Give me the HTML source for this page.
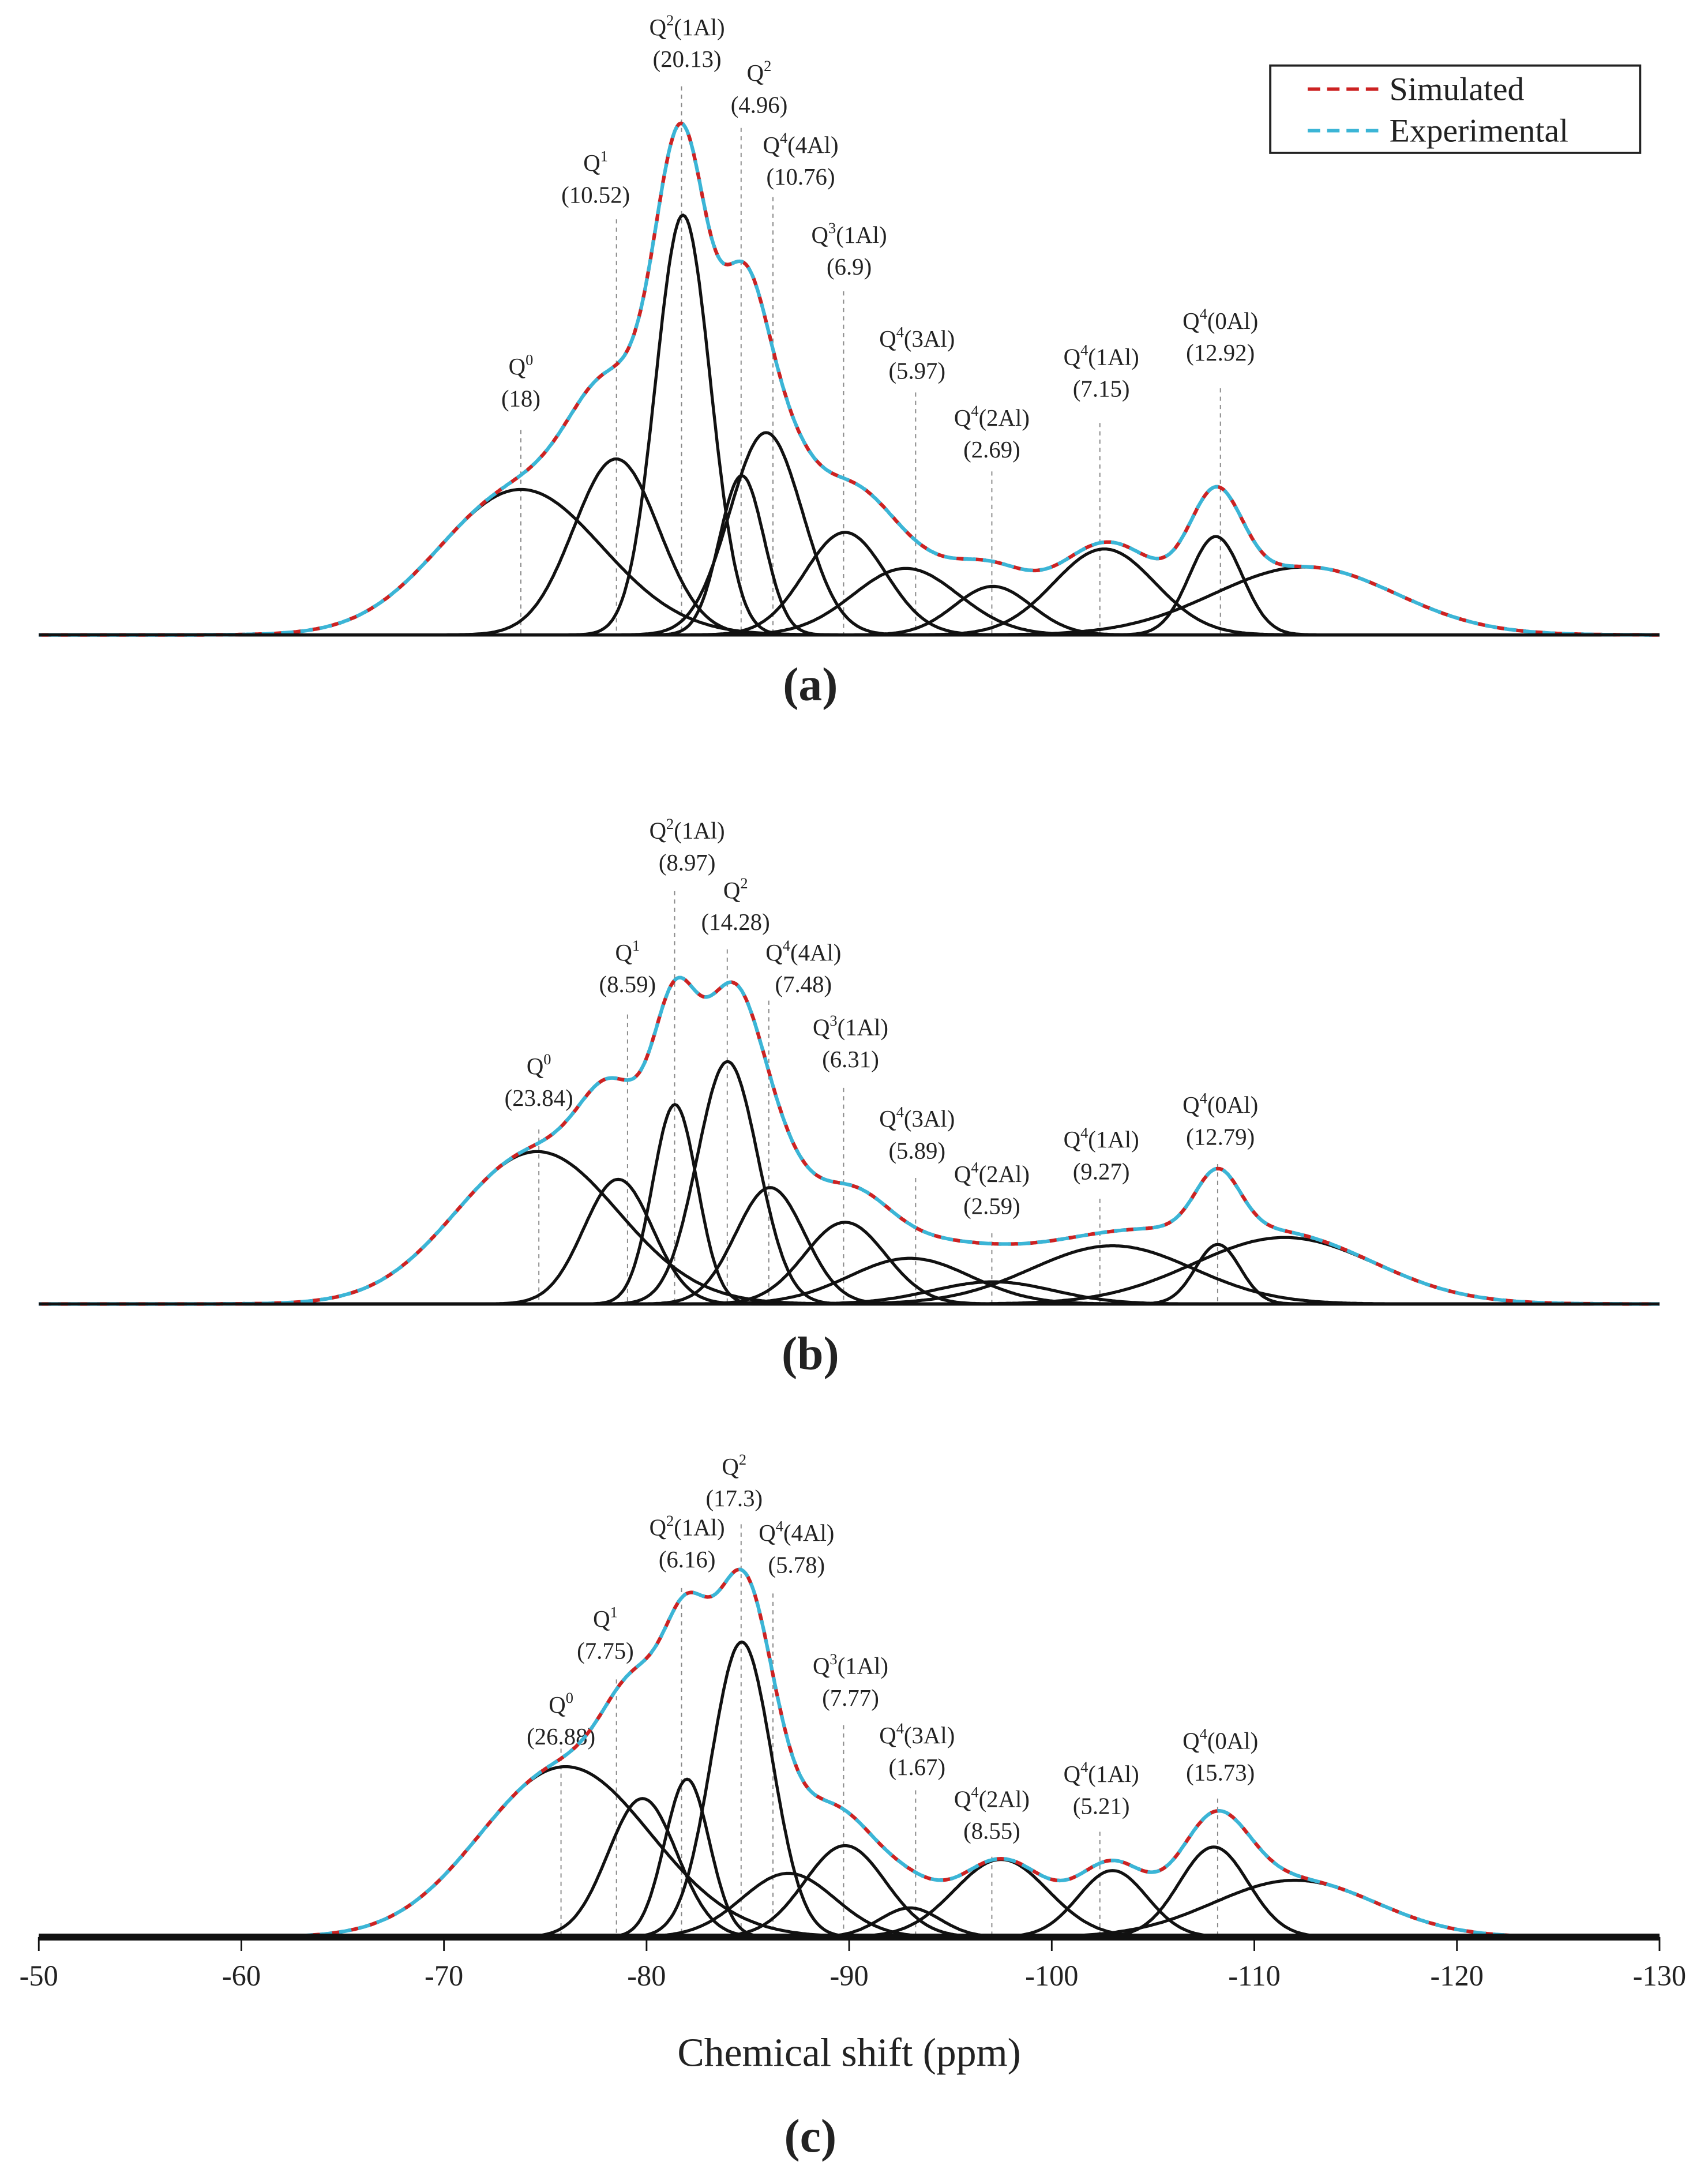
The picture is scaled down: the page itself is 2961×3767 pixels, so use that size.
<!DOCTYPE html>
<html><head><meta charset="utf-8"><style>
html,body{margin:0;padding:0;background:#fff}
svg{display:block}
text{font-family:"Liberation Serif",serif;fill:#222}
</style></head><body>
<svg id="chart" xmlns="http://www.w3.org/2000/svg" width="2961" height="3767" viewBox="0 0 1233 1568">
<rect width="1233" height="1568" fill="#fff"/>
<g id="legend">
<rect x="917" y="47" width="267" height="63" fill="#fff" stroke="#222" stroke-width="1.6"/>
<line x1="944" y1="64" x2="996" y2="64" stroke="#cc2222" stroke-width="2.5" stroke-dasharray="9,5"/>
<text x="1003" y="72" font-size="24">Simulated</text>
<line x1="944" y1="94" x2="996" y2="94" stroke="#3bb5d6" stroke-width="2.5" stroke-dasharray="9,5"/>
<text x="1003" y="102" font-size="24">Experimental</text>
</g>
</svg>
<script>
// ---- data ----
const peakNames = ["Q0","Q1","Q2(1Al)","Q2","Q4(4Al)","Q3(1Al)","Q4(3Al)","Q4(2Al)","Q4(1Al)","Q4(0Al)","broad"];
const areasA = ["18","10.52","20.13","4.96","10.76","6.9","5.97","2.69","7.15","12.92",""];
const areasB = ["23.84","8.59","8.97","14.28","7.48","6.31","5.89","2.59","9.27","12.79",""];
const areasC = ["26.88","7.75","6.16","17.3","5.78","7.77","1.67","8.55","5.21","15.73",""];
const centersA = [73.8,78.5,81.8,84.7,85.9,89.8,92.8,97.1,102.6,108.1,112.5];
const heightsA = [105,127,303,115,146,74,48,35,62,71,49];
const sigmasA = [4.0,2.1,1.35,1.1,1.8,2.0,2.6,1.9,2.5,1.3,4.5];
const centersB = [74.6,78.6,81.4,84.0,86.1,89.8,93.0,97.1,103.0,108.2,111.5];
const heightsB = [110,90,144,175,84,59,33,16,42,43,48];
const sigmasB = [4.0,1.7,1.1,1.5,1.7,2.0,3.0,3.0,4.0,1.1,4.5];
const centersC = [76.0,79.8,82.0,84.7,87.0,89.8,93.0,97.5,103.0,108.0,112.0];
const heightsC = [123,100,114,213,46,66,21,56,48,65,41];
const sigmasC = [4.2,1.7,1.1,1.5,2.3,2.0,1.5,2.3,1.7,1.7,4.0];
const xTicks = [-50,-60,-70,-80,-90,-100,-110,-120,-130];
// ---- layout (display coords) ----
const NS="http://www.w3.org/2000/svg";
const svg=document.getElementById('chart');
function x(p){return 28+(p-50)*14.625;}
function mk(tag,attrs,parent){const e=document.createElementNS(NS,tag);for(const k in attrs)e.setAttribute(k,attrs[k]);(parent||svg).appendChild(e);return e;}
const panels=[
 {id:'a',base:458,c:centersA,h:heightsA,s:sigmasA,ar:areasA,letterY:505,
  lab:[[376,262],[430,115],[496,17],[548,50],[578,102],[613,167],[662,242],[716,299],[795,255],[881,229]],
  top:[310,158,62,92,142,210,283,340,305,280],
  lx:[376,445,492,535,558,609,661,716,794,881]},
 {id:'b',base:941,c:centersB,h:heightsB,s:sigmasB,ar:areasB,letterY:988,
  lab:[[389,767],[453,685],[496,597],[531,640],[580,685],[614,739],[662,805],[716,845],[795,820],[881,795]],
  top:[815,732,643,685,722,785,850,890,865,840],
  lx:[389,453,487,525,555,609,661,716,794,879]},
 {id:'c',base:1398,c:centersC,h:heightsC,s:sigmasC,ar:areasC,letterY:1553,
  lab:[[405,1228],[437,1166],[496,1100],[530,1056],[575,1104],[614,1200],[662,1250],[716,1296],[795,1278],[881,1254]],
  top:[1262,1212,1146,1100,1150,1245,1292,1340,1322,1298],
  lx:[405,445,492,535,558,609,661,716,794,879]}
];
function labelText(g,name,cx,y){
  const t=mk('text',{x:cx,y:y+8,'font-size':17,'text-anchor':'middle'},g);
  const m=name.match(/^Q(\d)(.*)$/);
  if(m){
    const a=document.createElementNS(NS,'tspan');a.textContent='Q';t.appendChild(a);
    const b=document.createElementNS(NS,'tspan');b.setAttribute('font-size','11');b.setAttribute('dy','-7');b.textContent=m[1];t.appendChild(b);
    const c=document.createElementNS(NS,'tspan');c.setAttribute('dy','7');c.textContent=m[2];t.appendChild(c);
  }
  return t;
}
panels.forEach(P=>{
  const g=mk('g',{});
  
  
  for(let i=0;i<10;i++){
    const ln=mk('line',{x1:P.lx[i],x2:P.lx[i],y1:P.top[i],y2:P.base,stroke:'#888','stroke-width':0.8,'stroke-dasharray':'3,3'},g);
    
    
    const t=labelText(g,peakNames[i],P.lab[i][0],P.lab[i][1]);
    
    
    const t2=mk('text',{x:P.lab[i][0],y:P.lab[i][1]+31,'font-size':17,'text-anchor':'middle'},g);
    t2.textContent='('+P.ar[i]+')';
    
    
  }
  const sum=[];
  for(let p=50;p<=130.001;p+=0.1){sum.push([p,0]);}
  P.c.forEach((c,i)=>{
    let d='';
    sum.forEach((pt,k)=>{
      const v=P.h[i]*Math.exp(-((pt[0]-c)**2)/(2*P.s[i]**2));
      pt[1]+=v;
      d+=(k?'L':'M')+x(pt[0]).toFixed(1)+','+(P.base-v).toFixed(1);
    });
    const path=mk('path',{d:d,fill:'none',stroke:'#111','stroke-width':2.2},g);
    
    
  });
  let ds='';
  sum.forEach((pt,k)=>{ds+=(k?'L':'M')+x(pt[0]).toFixed(1)+','+(P.base-pt[1]).toFixed(1);});
  const sim=mk('path',{d:ds,fill:'none',stroke:'#cc2222','stroke-width':2.6,'stroke-dasharray':'9,5'},g);
  
  
  const exp=mk('path',{d:ds,fill:'none',stroke:'#3bb5d6','stroke-width':2.6,'stroke-dasharray':'9,5','stroke-dashoffset':'7'},g);
  
  
  const bl=mk('line',{x1:x(50),x2:x(130),y1:P.base,y2:P.base,stroke:'#111','stroke-width':P.id==='c'?5:2.2},g);
  
  
  const L=mk('text',{x:585,y:P.letterY,'font-size':34,'font-weight':'bold','text-anchor':'middle'},g);
  L.textContent='('+P.id+')';
  
  
});
const ax=mk('g',{});


xTicks.forEach(v=>{
  const tk=mk('line',{x1:x(-v),x2:x(-v),y1:1398,y2:1408,stroke:'#111','stroke-width':1.2},ax);
  
  
  const t=mk('text',{x:x(-v),y:1433,'font-size':21,'text-anchor':'middle'},ax);
  t.textContent=v;
  
  
});
const title=mk('text',{x:613,y:1491,'font-size':29,'text-anchor':'middle'},ax);
title.textContent='Chemical shift (ppm)';


svg.appendChild(document.getElementById('legend'));
</script>
</body></html>
